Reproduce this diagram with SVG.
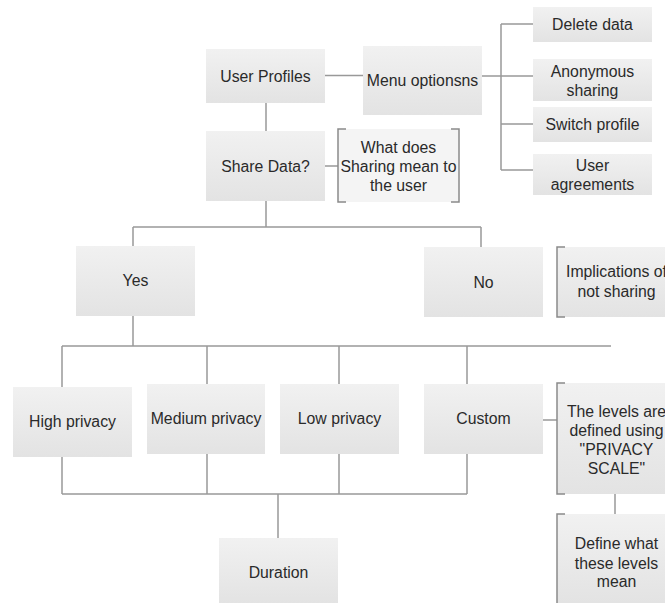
<svg xmlns="http://www.w3.org/2000/svg" width="665" height="603" viewBox="0 0 665 603">
<defs>
<linearGradient id="g" x1="0" y1="0" x2="0" y2="1">
<stop offset="0" stop-color="#f1f1f1"/>
<stop offset="1" stop-color="#e3e3e3"/>
</linearGradient>
</defs>
<style>
.box{fill:url(#g);stroke:none}
.br{fill:none;stroke:#8a8a8a;stroke-width:1.5}
.c{fill:none;stroke:#999;stroke-width:1.5}
text{font-family:"Liberation Sans",Arial,sans-serif;font-size:15.8px;fill:#2a2a2a;text-anchor:middle}
</style>
<rect width="665" height="603" fill="#fff"/>
<g id="connectors">
<path class="c" d="M325 75.5H363"/>
<path class="c" d="M482 76H533M501 24V170M501 24H533M501 124H533M501 170H533"/>
<path class="c" d="M266 103V131"/>
<path class="c" d="M325 166H338"/>
<path class="c" d="M266 201V227M133 227H481M133 227V246M481 227V247"/>
<path class="c" d="M133 316V346M62 346H611M62 346V387M207 346V384M339 346V384M467 346V384"/>
<path class="c" d="M62 457V494M207 454V494M339 454V494M467 454V494M62 494H467M278 494V538"/>
<path class="c" d="M543 420H557"/>
<path class="c" d="M615 494V514"/>
</g>
<g id="user-profiles"><rect class="box" x="206" y="49" width="119" height="54"/><text x="265.5" y="81.5">User Profiles</text></g>
<g id="menu-options"><rect class="box" x="363" y="46" width="119" height="69"/><text x="422.5" y="85.5">Menu optionsns</text></g>
<g id="delete-data"><rect class="box" x="533" y="7" width="119" height="35"/><text x="592.5" y="29.5">Delete data</text></g>
<g id="anonymous-sharing"><rect class="box" x="533" y="59" width="119" height="42"/><text x="592.5" y="76.5">Anonymous</text><text x="592.5" y="95.5">sharing</text></g>
<g id="switch-profile"><rect class="box" x="533" y="107" width="119" height="35"/><text x="592.5" y="129.5">Switch profile</text></g>
<g id="user-agreements"><rect class="box" x="533" y="154" width="119" height="41"/><text x="592.5" y="170.5">User</text><text x="592.5" y="189.5">agreements</text></g>
<g id="share-data"><rect class="box" x="206" y="131" width="119" height="70"/><text x="265.5" y="171.5">Share Data?</text></g>
<g id="sharing-meaning"><rect class="box" x="338" y="129" width="121" height="73" style="fill:#f4f4f4"/><path class="br" d="M346 129H338V202H346M451 129H459V202H451"/><text x="398.5" y="152.5">What does</text><text x="398.5" y="171.5">Sharing mean to</text><text x="398.5" y="190.5">the user</text></g>
<g id="yes"><rect class="box" x="76" y="246" width="119" height="70"/><text x="135.5" y="285.5">Yes</text></g>
<g id="no"><rect class="box" x="424" y="247" width="119" height="70"/><text x="483.5" y="287.5">No</text></g>
<g id="implications"><rect class="box" x="557" y="247" width="119" height="70"/><path class="br" d="M565 247H557V317H565"/><text x="616.5" y="276.5">Implications of</text><text x="616.5" y="296.5">not sharing</text></g>
<g id="high-privacy"><rect class="box" x="13" y="387" width="119" height="70"/><text x="72.5" y="426.5">High privacy</text></g>
<g id="medium-privacy"><rect class="box" x="147" y="384" width="118" height="70"/><text x="206" y="423.5">Medium privacy</text></g>
<g id="low-privacy"><rect class="box" x="280" y="384" width="119" height="70"/><text x="339.5" y="423.5">Low privacy</text></g>
<g id="custom"><rect class="box" x="424" y="384" width="119" height="70"/><text x="483.5" y="423.5">Custom</text></g>
<g id="privacy-scale"><rect class="box" x="557" y="383" width="119" height="111"/><path class="br" d="M565 383H557V494H565"/><text x="616.5" y="416.5">The levels are</text><text x="616.5" y="435.5">defined using</text><text x="616.5" y="454.5">"PRIVACY</text><text x="616.5" y="473.5">SCALE"</text></g>
<g id="define-levels"><rect class="box" x="557" y="514" width="119" height="89"/><path class="br" d="M565 514H557V603"/><text x="616.5" y="548.5">Define what</text><text x="616.5" y="568.5">these levels</text><text x="616.5" y="586.5">mean</text></g>
<g id="duration"><rect class="box" x="219" y="538" width="119" height="65"/><text x="278.5" y="577.5">Duration</text></g>
</svg>
